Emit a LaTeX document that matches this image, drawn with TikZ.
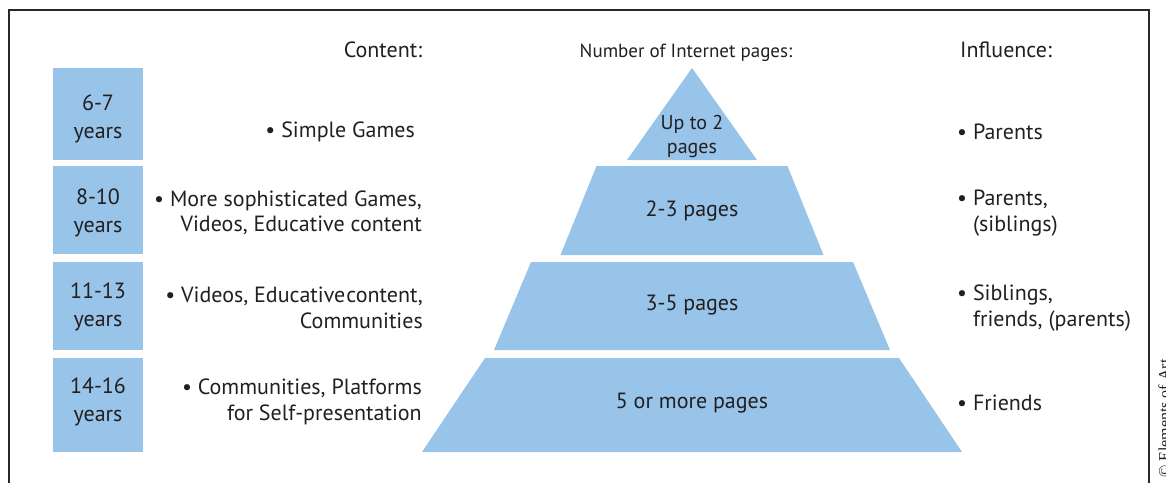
\documentclass[tikz,border=0pt]{standalone}
\usepackage{fontspec}
\setmainfont{PT Sans}
\newfontfamily\credfont{Liberation Serif}
\definecolor{pyrblue}{RGB}{151,196,232}
\definecolor{txt}{RGB}{35,31,32}
\definecolor{framec}{RGB}{40,40,40}
\begin{document}
\begin{tikzpicture}[x=1pt,y=-1pt,
  every node/.style={inner sep=0pt, text=txt, font=\fontsize{22}{25.5}\selectfont},
  agebox/.style={fill=pyrblue, draw=none},
  level/.style={fill=pyrblue, draw=none},
  lbl/.style={align=center},
  agelbl/.style={align=center, font=\fontsize{22}{27.5}\selectfont},
  content/.style={align=right, anchor=east},
  infl/.style={align=left, anchor=west},
  head/.style={anchor=base}
]
\useasboundingbox (0,0) rectangle (1166,482);
% frame
\draw[framec, line width=1.6pt] (9,485) -- (9,10) -- (1149,10) -- (1149,485);
% credit
\node[rotate=90, anchor=south west, font=\credfont\fontsize{16}{16}\selectfont, text=txt] (cred) at (1170,478) {\textcopyright\ Elements of Art};
% headers
\node[head] (hc) at (383,57) {Content:};
\node[head, font=\fontsize{19}{22}\selectfont] (hn) at (686,57) {Number of Internet pages:};
\node[head] (hi) at (1006,57) {Influence:};
% age boxes
\node[agebox, minimum width=90pt, minimum height=92pt, anchor=north west] (a1) at (53,68) {};
\node[agebox, minimum width=90pt, minimum height=88pt, anchor=north west] (a2) at (53,166) {};
\node[agebox, minimum width=90pt, minimum height=88pt, anchor=north west] (a3) at (53,262) {};
\node[agebox, minimum width=90pt, minimum height=94pt, anchor=north west] (a4) at (53,358) {};
\node[agelbl] (t1) at (98,119) {6-7\\years};
\node[agelbl] (t2) at (98,213) {8-10\\years};
\node[agelbl] (t3) at (98,307) {11-13\\years};
\node[agelbl] (t4) at (98,402) {14-16\\years};
% pyramid
\fill[level] (692,68) -- (757,160) -- (627,160) -- cycle;
\fill[level] (596.5,166) -- (787.5,166) -- (823.5,255) -- (560.5,255) -- cycle;
\fill[level] (531,262) -- (853,262) -- (890,350) -- (494,350) -- cycle;
\fill[level] (485,358) -- (899,358) -- (962,452) -- (422,452) -- cycle;
\coordinate (p1) at (692,136);
\coordinate (p2) at (692,211);
\coordinate (p3) at (692,305);
\coordinate (p4) at (692,403);
\node[lbl, font=\fontsize{20}{24}\selectfont] (l1) at (p1) {Up to 2\\pages};
\node[lbl] (l2) at (p2) {2-3 pages};
\node[lbl] (l3) at (p3) {3-5 pages};
\node[lbl] (l4) at (p4) {5 or more pages};
% content
\node[content] (c1) at (415,132) {\textbullet\ Simple Games};
\node[content] (c2) at (422,213) {\textbullet\ More sophisticated Games,\\Videos, Educative content};
\node[content] (c3) at (423,308) {\textbullet\ Videos, Educative\kern1pt content,\\Communities};
\node[content] (c4) at (422,402) {\textbullet\ Communities, Platforms\\for Self-presentation};
% influence
\node[infl] (i1) at (957,132) {\textbullet\ Parents};
\node[infl] (i2) at (957,213) {\textbullet\ Parents,\\\hphantom{\textbullet\ }(siblings)};
\node[infl] (i3) at (957,308) {\textbullet\ Siblings,\\\hphantom{\textbullet\ }friends, (parents)};
\node[infl] (i4) at (957,403) {\textbullet\ Friends};
\end{tikzpicture}
\end{document}
